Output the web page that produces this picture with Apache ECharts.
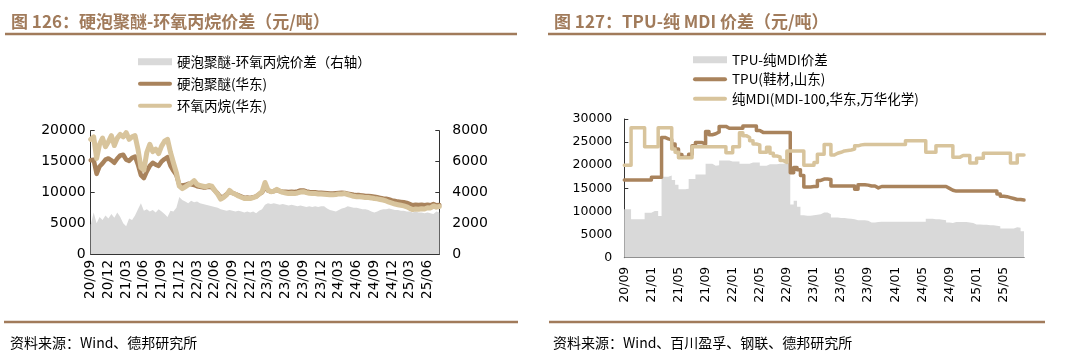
<!DOCTYPE html>
<html>
<head>
<meta charset="utf-8">
<script src="https://cdn.jsdelivr.net/npm/echarts@6/dist/echarts.min.js"></script>
<style>
html,body{margin:0;padding:0;background:#fff;}
#c{width:1075px;height:358px;}
</style>
</head>
<body>
<div id="c"></div>
<script>
// ---------- Data (half-month samples starting 2020/09) ----------
const leftTickLabels = ['20/09','20/12','21/03','21/06','21/09','21/12','22/03','22/06','22/09','22/12','23/03','23/06','23/09','23/12','24/03','24/06','24/09','24/12','25/03','25/06'];
const rightTickLabels = ['20/09','21/01','21/05','21/09','22/01','22/05','22/09','23/01','23/05','23/09','24/01','24/05','24/09','25/01','25/05'];

// 硬泡聚醚-环氧丙烷价差（右轴）
const leftSpread = [
1900,2700,2000,2400,2200,2500,2300,2600,2350,2700,
2400,2000,1800,2300,2200,2500,2900,3300,2800,2900,
2750,2850,2700,2900,2750,2600,2400,2800,2750,3000,
3700,3500,3400,3300,3450,3350,3400,3300,3250,3200,
3150,3100,3050,3000,2900,2850,2800,2850,2800,2750,
2800,2750,2700,2750,2700,2750,2650,2800,2900,3200,
3300,3250,3300,3250,3200,3250,3200,3150,3200,3150,
3100,3150,3100,3050,3100,3050,3100,3050,3100,3100,
2950,2850,2800,2750,2850,2950,3000,3100,3050,3000,
3000,2950,2900,2900,2850,2750,2700,2750,2850,2900,
2900,2950,2900,2850,2850,2800,2800,2750,2750,2700,
2750,2700,2700,2650,2700,2650,2600,2750,2700];
// 硬泡聚醚(华东)
const polyether = [
15200,15300,13000,14200,14700,15300,15500,15200,14800,15500,
16000,16100,15300,15100,15600,15800,14500,12800,12300,13400,
14300,14800,14500,14300,15000,15400,15700,14300,13500,12800,
11200,11100,11200,11400,11300,11200,11000,10900,10800,10800,
10900,10800,10300,9800,9200,9300,9700,10100,9900,9700,
9500,9300,9100,9150,9100,9200,9350,9700,10000,10900,
10300,10100,10200,10400,10200,10100,10100,10050,10100,10050,
10150,10300,10300,10150,10050,10000,10000,9950,9950,9900,
9850,9800,9800,9850,9900,9950,9900,9800,9700,9600,
9550,9550,9500,9400,9400,9350,9300,9200,9100,9000,
8950,8850,8700,8600,8500,8450,8400,8300,8100,7900,
8000,7950,8000,7900,8000,7900,8100,7900,7950];
// 环氧丙烷(华东)
const propyleneOxide = [
18600,19000,15500,17800,18800,17400,18200,19200,17600,18800,
19400,19000,19700,18600,19000,19200,17000,14000,13600,16500,
17800,16600,17000,16300,17500,18300,18600,16500,14800,13200,
11000,10600,10900,11200,11500,11900,11300,11100,11000,10900,
11100,11000,10300,9700,8900,9200,9600,10300,9900,9700,
9400,9200,9000,9050,9000,9150,9300,9700,10100,11600,
10400,10100,10200,10500,10200,10000,9900,9800,9850,9800,
9900,10050,10100,9950,9850,9800,9800,9750,9750,9700,
9650,9600,9600,9650,9750,9750,9800,9650,9500,9350,
9300,9300,9250,9150,9150,9100,9000,8950,8850,8750,
8600,8400,8250,8100,8000,7900,7800,7650,7400,7200,
7300,7250,7350,7300,7500,7450,7800,7600,7700];

// TPU-纯MDI价差
const tpuSpread = [
10500,10500,8300,8300,8300,8300,9700,9700,10100,10100,
9000,17500,17500,17800,16800,15800,14800,14800,14900,17000,
17000,18000,18000,18000,20300,20300,19900,20000,21000,21000,
21000,20800,20800,20800,20300,20300,20300,20600,20600,20600,
19900,19900,20200,20200,20200,20300,20300,20500,20500,11500,
12300,11000,9200,9100,9100,9200,9300,9400,9800,9800,
9400,8700,8700,8600,8600,8500,8400,8300,8100,8100,
8100,8000,7600,7600,7700,7800,7800,7800,7800,7800,
7800,7800,7800,7800,7800,7800,7800,7800,7800,8400,
8400,8300,8300,8200,8100,7600,7500,7700,7700,7700,
7700,7600,7500,7200,7200,7100,7100,7000,7000,6900,
6800,6300,6300,6300,6300,6600,6500,5700,5700];
// TPU(鞋材,山东)
const tpuPrice = [
16800,16800,16800,16800,16800,16800,16800,16800,17400,17400,
17400,26000,25700,25500,24600,23500,22300,21700,21700,22400,
24200,24900,24900,24600,27300,26600,26800,27200,28400,28400,
28000,28000,28000,28000,28000,28500,28500,28500,28500,27500,
27100,27100,27100,27100,27100,27100,27100,27100,27100,18400,
19500,19000,17800,15300,15300,15400,15400,16700,17000,17000,
16900,15500,15500,15500,15500,15500,15500,15500,14800,15800,
15800,15700,15500,15500,15100,15400,15400,15400,15400,15400,
15400,15400,15400,15400,15400,15400,15400,15400,15400,15400,
15400,15400,15400,15400,15400,15000,14600,14400,14400,14400,
14400,14400,14400,14400,14400,14400,14400,14400,14400,14400,
13800,13300,13200,13000,12800,12600,12600,12500,12500];
// 纯MDI(MDI-100,华东,万华化学)
const mdiPrice = [
20000,20000,28100,28100,28100,28100,24000,24000,24000,24000,
28100,28100,28100,28100,23500,22800,21600,21600,21600,21600,
24000,24000,24000,24000,24000,24000,24000,24000,24000,24000,
22700,22700,24000,24000,27000,26400,26000,25300,24600,24400,
22800,22800,23900,22600,22000,21800,21000,20600,23100,23100,
23100,23100,23100,20000,20000,20000,20600,22400,22400,24500,
24500,22200,22600,22800,23100,23200,23300,23500,24200,24400,
24500,24500,24500,24500,24500,24500,24500,24500,24500,24500,
24500,24500,24500,25300,25300,25300,25300,25300,25300,22800,
22800,22800,24200,24200,24200,24200,24200,21700,21700,22100,
22100,22100,20500,20500,21500,21500,22600,22600,22600,22600,
22600,22600,22600,22600,20500,20500,22200,22200,22200];

// ---------- Helpers ----------
const STEP = 0.5; // months per sample
const toPairs = arr => arr.map((v, i) => [i * STEP, v]);
const leftTickPos = leftTickLabels.map((_, i) => i * 3);
const rightTickPos = rightTickLabels.map((_, i) => i * 4);

const C_DARK = '#a9835c';
const C_LIGHT = '#d8c49c';
const C_GRAY = '#d9d9d9';
const C_TITLE = '#a17b5b';
const AX = '#333';
const NUM_FONT = 'DejaVu Sans';
const CJK = 'Noto Sans CJK SC';
const LINE_ICON = 'path://M2,0 L32,0 A2,2 0 0 1 32,4 L2,4 A2,2 0 0 1 2,0 Z';

function xAxisOpt(gridIndex, labels, pos, step, fontSize, margin) {
  return {
    type: 'value', gridIndex, min: 0, max: 59, interval: step,
    axisLine: {show: true, lineStyle: {color: AX, width: 1}},
    axisTick: {show: true, inside: true, length: 4, lineStyle: {color: AX}, customValues: pos},
    axisLabel: {
      rotate: 90, margin, color: '#000', fontSize, fontFamily: NUM_FONT,
      customValues: pos,
      formatter: v => { const k = Math.round(v / step); return (Math.abs(v - k * step) < 1e-6 && labels[k]) ? labels[k] : ''; }
    },
    splitLine: {show: false}
  };
}
function yAxisOpt(gridIndex, max, interval, position, fontSize, margin) {
  return {
    type: 'value', gridIndex, min: 0, max, interval, position,
    axisLine: {show: true, lineStyle: {color: AX, width: 1}},
    axisTick: {show: true, inside: true, length: 4, lineStyle: {color: AX}},
    axisLabel: {color: '#000', fontSize, fontFamily: NUM_FONT, margin, formatter: v => String(v)},
    splitLine: {show: false}
  };
}

const chart = echarts.init(document.getElementById('c'), null, {renderer: 'canvas', width: 1075, height: 358});

const option = {
  backgroundColor: '#fff',
  animation: false,
  title: [
    {text: '图 126：硬泡聚醚-环氧丙烷价差（元/吨）', left: 6, top: 8,
     textStyle: {fontSize: 17, fontWeight: 'bold', color: C_TITLE, fontFamily: CJK}},
    {text: '图 127：TPU-纯 MDI 价差（元/吨）', left: 549, top: 8,
     textStyle: {fontSize: 17, fontWeight: 'bold', color: C_TITLE, fontFamily: CJK}},
    {text: '资料来源：Wind、德邦研究所', left: 5, top: 331,
     textStyle: {fontSize: 14, fontWeight: 'normal', color: '#000', fontFamily: CJK}},
    {text: '资料来源：Wind、百川盈孚、钢联、德邦研究所', left: 548, top: 331,
     textStyle: {fontSize: 14, fontWeight: 'normal', color: '#000', fontFamily: CJK}}
  ],
  graphic: [
    {type: 'line', shape: {x1: 5, y1: 34, x2: 517, y2: 34}, style: {stroke: C_TITLE, lineWidth: 2.5}},
    {type: 'line', shape: {x1: 548, y1: 34, x2: 1046, y2: 34}, style: {stroke: C_TITLE, lineWidth: 2.5}},
    {type: 'line', shape: {x1: 4, y1: 322, x2: 518, y2: 322}, style: {stroke: C_TITLE, lineWidth: 2.5}},
    {type: 'line', shape: {x1: 549, y1: 322, x2: 1045, y2: 322}, style: {stroke: C_TITLE, lineWidth: 2.5}}
  ],
  legend: [
    {orient: 'vertical', left: 133, top: 50, itemWidth: 34, itemHeight: 7, itemGap: 8.5,
     textStyle: {fontSize: 13.5, color: '#000', fontFamily: CJK},
     data: [{name: '硬泡聚醚-环氧丙烷价差（右轴）', icon: 'rect'},
            {name: '硬泡聚醚(华东)', icon: LINE_ICON},
            {name: '环氧丙烷(华东)', icon: LINE_ICON}]},
    {orient: 'vertical', left: 688, top: 48, itemWidth: 34, itemHeight: 7, itemGap: 6,
     textStyle: {fontSize: 13.5, color: '#000', fontFamily: CJK},
     data: [{name: 'TPU-纯MDI价差', icon: 'rect'},
            {name: 'TPU(鞋材,山东)', icon: LINE_ICON},
            {name: '纯MDI(MDI-100,华东,万华化学)', icon: LINE_ICON}]}
  ],
  grid: [
    {left: 90.7, right: 1075 - 439.3, top: 130.7, bottom: 358 - 254, containLabel: false, outerBoundsMode: 'none'},
    {left: 624.3, right: 1075 - 1024, top: 119, bottom: 358 - 257.7, containLabel: false, outerBoundsMode: 'none'}
  ],
  xAxis: [
    xAxisOpt(0, leftTickLabels, leftTickPos, 3, 13.5, 6),
    xAxisOpt(1, rightTickLabels, rightTickPos, 4, 12.5, 9)
  ],
  yAxis: [
    yAxisOpt(0, 20000, 5000, 'left', 14, 5),
    yAxisOpt(0, 8000, 2000, 'right', 14, 13),
    yAxisOpt(1, 30000, 5000, 'left', 12.5, 12)
  ],
  series: [
    {name: '硬泡聚醚-环氧丙烷价差（右轴）', type: 'line', xAxisIndex: 0, yAxisIndex: 1,
     data: toPairs(leftSpread), symbol: 'none', color: C_GRAY, lineStyle: {width: 0, color: C_GRAY},
     itemStyle: {color: C_GRAY}, areaStyle: {color: C_GRAY, opacity: 1}, z: 1},
    {name: '硬泡聚醚(华东)', type: 'line', xAxisIndex: 0, yAxisIndex: 0,
     data: toPairs(polyether), symbol: 'none', color: C_DARK, itemStyle: {color: C_DARK},
     lineStyle: {width: 4.5, color: C_DARK, join: 'round', cap: 'round'}, z: 2},
    {name: '环氧丙烷(华东)', type: 'line', xAxisIndex: 0, yAxisIndex: 0,
     data: toPairs(propyleneOxide), symbol: 'none', color: C_LIGHT, itemStyle: {color: C_LIGHT},
     lineStyle: {width: 5, color: C_LIGHT, join: 'round', cap: 'round'}, z: 3},
    {name: 'TPU-纯MDI价差', type: 'line', xAxisIndex: 1, yAxisIndex: 2, step: 'end',
     data: toPairs(tpuSpread), symbol: 'none', color: C_GRAY, lineStyle: {width: 0, color: C_GRAY},
     itemStyle: {color: C_GRAY}, areaStyle: {color: C_GRAY, opacity: 1}, z: 1},
    {name: 'TPU(鞋材,山东)', type: 'line', xAxisIndex: 1, yAxisIndex: 2, step: 'end',
     data: toPairs(tpuPrice), symbol: 'none', color: C_DARK, itemStyle: {color: C_DARK},
     lineStyle: {width: 3.5, color: C_DARK, join: 'round', cap: 'round'}, z: 2},
    {name: '纯MDI(MDI-100,华东,万华化学)', type: 'line', xAxisIndex: 1, yAxisIndex: 2, step: 'end',
     data: toPairs(mdiPrice), symbol: 'none', color: C_LIGHT, itemStyle: {color: C_LIGHT},
     lineStyle: {width: 3.5, color: C_LIGHT, join: 'round', cap: 'round'}, z: 3}
  ]
};
chart.setOption(option);
</script>
</body>
</html>
